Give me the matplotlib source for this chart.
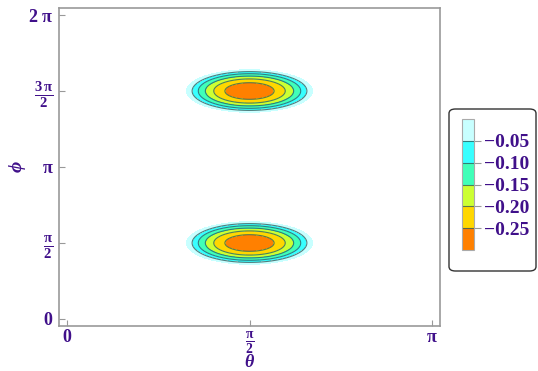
import numpy as np
import matplotlib
matplotlib.use("Agg")
import matplotlib.pyplot as plt
from matplotlib.patches import FancyBboxPatch

plt.rcParams['font.family'] = ['Liberation Serif', 'DejaVu Serif']
plt.rcParams['mathtext.fontset'] = 'custom'
plt.rcParams['mathtext.rm'] = 'Liberation Serif'
plt.rcParams['mathtext.bf'] = 'Liberation Serif:bold'
plt.rcParams['mathtext.it'] = 'Liberation Serif:italic:bold'

# contour levels and fill colours (lowest first)
levels = [-0.30, -0.25, -0.20, -0.15, -0.10, -0.05, 0.0]
fill_colors = ['#ff8000', '#ffd700', '#ccff33', '#40ffb8', '#38ffff', '#c8ffff']
bar_ticks = [-0.25, -0.20, -0.15, -0.10, -0.05]
bar_labels = ['\u22120.25', '\u22120.20', '\u22120.15', '\u22120.10', '\u22120.05']

# two wells at theta = pi/2, phi = pi/2 and 3pi/2
theta_c = [np.pi / 2, np.pi / 2]
phi_c = [np.pi / 2, 3 * np.pi / 2]
depth = 0.295
r_theta = 0.542
r_phi = 0.44

x_ticks = [0, np.pi / 2, np.pi]
x_labels = [r'$\mathbf{0}$', r'$\mathbf{\frac{\pi}{2}}$', r'$\mathbf{\pi}$']
y_ticks = [0, np.pi / 2, np.pi, 3 * np.pi / 2, 2 * np.pi]
y_labels = [r'$\mathbf{0}$', r'$\mathbf{\frac{\pi}{2}}$', r'$\mathbf{\pi}$',
            r'$\mathbf{\frac{3\,\pi}{2}}$', r'$\mathbf{2\ \pi}$']

txt = '#40108a'
edge = '#999999'

th = np.linspace(0, np.pi, 600)
ph = np.linspace(0, 2 * np.pi, 900)
T, P = np.meshgrid(th, ph)
Z = np.full(T.shape, np.inf)
for tc, pc in zip(theta_c, phi_c):
    r2 = ((T - tc) / r_theta) ** 2 + ((P - pc) / r_phi) ** 2
    Z = np.minimum(Z, -depth * (1 - r2))

fig = plt.figure(figsize=(5.38, 3.71), dpi=100)
ax = fig.add_axes([59 / 538, 45 / 371, 381 / 538, 318 / 371])
cf = ax.contourf(T, P, Z, levels=levels, colors=fill_colors)
cl = ax.contour(T, P, Z, levels=levels[1:-1], colors='#2f5f5f',
                linewidths=0.8, alpha=0.8, linestyles='solid')

ax.set_xlim(-0.069, np.pi + 0.069)
ax.set_ylim(-0.145, 2 * np.pi + 0.145)
ax.set_xticks(x_ticks)
ax.set_xticklabels(x_labels)
ax.set_yticks(y_ticks)
ax.set_yticklabels(y_labels)
ax.tick_params(direction='in', length=4, width=0.8, color=edge,
               labelcolor=txt, labelsize=13, pad=4)
ax.tick_params(axis='x', pad=2)
for lab in ax.get_yticklabels():
    if 'frac' in lab.get_text():
        lab.set_fontsize(15)
for lab in ax.get_xticklabels():
    if 'frac' in lab.get_text():
        lab.set_fontsize(14)
for s in ax.spines.values():
    s.set_color(edge)
    s.set_linewidth(1.2)
ax.set_xlabel(r'$\theta$', color=txt, fontsize=13, va='center')
ax.xaxis.set_label_coords(0.5, -0.116)
ax.set_ylabel(r'$\phi$', color=txt, fontsize=14, va='center')
ax.yaxis.set_label_coords(-0.11, 0.5)

# legend box with colour bar
box = FancyBboxPatch((449 / 538, 100 / 371), 87 / 538, 162 / 371,
                     boxstyle='round,pad=0,rounding_size=0.012',
                     transform=fig.transFigure, facecolor='white',
                     edgecolor='#333333', linewidth=1.0, zorder=-1)
fig.patches.append(box)
cax = fig.add_axes([462 / 538, 121 / 371, 12 / 538, 131 / 371])
cax.set_zorder(5)
cb = fig.colorbar(cf, cax=cax)
cb.add_lines(cl)
cb.set_ticks(bar_ticks)
cb.set_ticklabels(bar_labels)
cb.outline.set_edgecolor('#aaaaaa')
cax.tick_params(direction='out', length=5, width=0.8, color=edge,
                labelcolor=txt, labelsize=14, pad=2)
for t in cax.get_yticklabels():
    t.set_fontweight('bold')

fig.savefig('out.png', dpi=100)
